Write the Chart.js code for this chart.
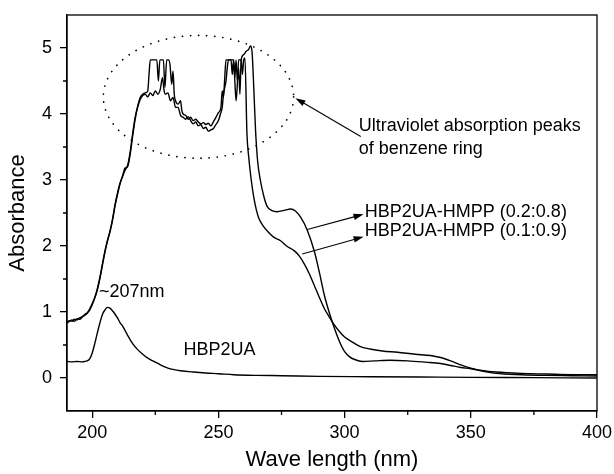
<!DOCTYPE html>
<html>
<head>
<meta charset="utf-8">
<script src="https://cdn.jsdelivr.net/npm/chart.js@4.4.1/dist/chart.umd.min.js"></script>
<style>
  body { margin: 0; background: #fff; }
  canvas { display: block; }
</style>
</head>
<body>
<canvas id="uvChart" width="614" height="474"></canvas>
<script>
// tick labels
const xTicks = [200, 250, 300, 350, 400];
const yTicks = [0, 1, 2, 3, 4, 5];
const xMinor = [225, 275, 325, 375];
const yMinor = [0.5, 1.5, 2.5, 3.5, 4.5];

// HBP2UA-HMPP (0.2:0.8)
const waveA = [190,191,192,193,194,195,196,197,198,199,200,201,202,203,204,205,206,207,208,209,210,211,212,213,214,215,216,217,218,219,
  220,221,222,222.5,223,224,225,225.6,226.2,226.8,227.5,228.2,228.8,229.5,230.2,230.8,231.5,232,232.5,233,
  234,235,235.5,236,237,238,239,240,241,242,243,244,245,246,247,248,249,250,251,
  251.5,252,252.5,253,254,255,255.5,256,256.5,257,257.5,258,258.5,259,260,261,262,262.7,263.3,
  264,264.7,265.5,266.6,268,269.3,271,273.3,276,278.6,280.5,282.5,285.2,
  288,290,292,294,296,298,300,302,304,307,
  312,318,325,332,338,342,346,350,355,360,370,380,390,400];
const absA = [0.85,0.87,0.86,0.89,0.88,0.91,0.93,0.95,0.98,1.05,1.13,1.22,1.35,1.52,1.72,1.92,2.08,2.22,2.4,2.62,2.8,2.95,3.05,3.15,3.22,3.42,3.7,3.95,4.12,4.25,
  4.3,4.32,4.35,4.6,4.82,4.82,4.82,4.82,4.5,4.82,4.82,4.82,4.4,4.82,4.82,4.75,4.45,4.65,4.3,4.2,
  4.15,4.2,4.05,4.0,3.98,3.92,3.95,3.9,3.92,3.88,3.85,3.87,3.84,3.86,3.82,3.88,3.95,4.02,4.1,
  4.35,4.25,4.55,4.82,4.82,4.82,4.6,4.82,4.55,4.82,4.5,4.7,4.3,4.82,4.9,4.95,4.98,5.03,4.95,
  4.4,3.76,3.3,3.0,2.75,2.6,2.54,2.52,2.54,2.56,2.53,2.44,2.24,
  1.92,1.6,1.25,0.98,0.75,0.55,0.4,0.32,0.28,0.25,
  0.26,0.27,0.26,0.24,0.22,0.19,0.16,0.14,0.1,0.07,0.05,0.04,0.035,0.03];

// HBP2UA-HMPP (0.1:0.9)
const waveB = [190,191,192,193,194,195,196,197,198,199,200,201,202,203,204,205,206,207,208,209,210,211,212,213,214,215,216,217,218,219,
  220,221,222,223,224,225,226,227,227.8,228.5,
  229,230,231,232,233,234,235,236,237,238,239,240,241,242,243,244,245,246,247,248,249,250,
  250.8,251.5,252,253,253.5,254,255,256,256.5,257,257.5,258,259,259.5,260,260.5,
  261.3,262,263,264,265,266,268,270,272,274.6,277,280,282,284,286,288,290,292,294,296,298,300,302.4,306,310,315,321,328,334,338,342,346,350,355,360,370,380,390,400];
const absB = [0.83,0.86,0.88,0.86,0.9,0.89,0.92,0.96,0.99,1.03,1.11,1.21,1.33,1.5,1.7,1.9,2.07,2.21,2.38,2.6,2.78,2.94,3.06,3.18,3.2,3.38,3.66,3.92,4.1,4.22,
  4.28,4.3,4.26,4.32,4.28,4.35,4.3,4.38,4.55,4.35,
  4.3,4.32,4.2,4.25,4.1,4.1,3.98,3.95,3.92,3.96,3.9,3.85,3.88,3.82,3.84,3.78,3.8,3.74,3.76,3.78,3.84,3.9,
  4.0,4.1,4.3,4.5,4.7,4.82,4.82,4.82,4.5,4.2,4.45,4.82,4.82,4.6,4.82,4.85,
  3.7,3.35,3.0,2.74,2.55,2.42,2.29,2.2,2.13,2.08,2.0,1.93,1.85,1.73,1.58,1.4,1.22,1.05,0.92,0.8,0.7,0.62,0.56,0.48,0.44,0.41,0.39,0.36,0.34,0.31,0.26,0.2,0.15,0.11,0.09,0.07,0.06,0.05,0.05];

// HBP2UA
const waveU = [190,192,194,196,197,198,199,200,201,202,203,204,205,206,207,208,209,210,211,212,213,214,215,216,
  218,220,222,224,226,228,230,232,235,240,245,250,256,265,275,290,310,330,350,375,400];
const absU = [0.25,0.245,0.25,0.245,0.25,0.26,0.29,0.38,0.52,0.68,0.83,0.96,1.03,1.07,1.06,1.02,0.97,0.91,0.84,0.79,0.72,0.65,0.58,0.52,
  0.43,0.36,0.3,0.26,0.22,0.18,0.15,0.13,0.11,0.09,0.075,0.065,0.05,0.04,0.035,0.025,0.02,0.015,0.01,0.005,0.0];

const FONT = "'Liberation Sans', Arial, sans-serif";

function toPoints(xs, ys) {
    return xs.map((x, i) => ({ x: x, y: ys[i] }));
}

function curve(label, xs, ys) {
    return {
        label: label,
        data: toPoints(xs, ys),
        borderColor: '#000',
        borderWidth: 1.4,
        pointRadius: 0,
        fill: false,
        cubicInterpolationMode: 'monotone'
    };
}

function arrow(ctx, x1, y1, x2, y2) {
    const ang = Math.atan2(y2 - y1, x2 - x1);
    const len = 10, half = 3.2;
    ctx.beginPath();
    ctx.moveTo(x1, y1);
    ctx.lineTo(x2 - Math.cos(ang) * len * 0.8, y2 - Math.sin(ang) * len * 0.8);
    ctx.stroke();
    ctx.beginPath();
    ctx.moveTo(x2, y2);
    ctx.lineTo(x2 - Math.cos(ang) * len + Math.sin(ang) * half, y2 - Math.sin(ang) * len - Math.cos(ang) * half);
    ctx.lineTo(x2 - Math.cos(ang) * len - Math.sin(ang) * half, y2 - Math.sin(ang) * len + Math.cos(ang) * half);
    ctx.closePath();
    ctx.fill();
}

// frame, minor ticks and annotations
const decorPlugin = {
    id: 'decor',
    afterDraw(chart) {
        const ctx = chart.ctx;
        const a = chart.chartArea;
        const sx = chart.scales.x, sy = chart.scales.y;
        const px = v => sx.getPixelForValue(v);
        const py = v => sy.getPixelForValue(v);

        ctx.save();
        ctx.strokeStyle = '#000';
        ctx.fillStyle = '#000';
        ctx.lineWidth = 1.3;
        ctx.strokeRect(a.left, a.top, a.right - a.left, a.bottom - a.top);

        ctx.beginPath();
        xMinor.forEach(v => { ctx.moveTo(px(v), a.bottom); ctx.lineTo(px(v), a.bottom + 4); });
        yMinor.forEach(v => { ctx.moveTo(a.left, py(v)); ctx.lineTo(a.left - 4, py(v)); });
        ctx.stroke();

        // dotted ellipse round the benzene peaks
        ctx.lineWidth = 1.7;
        ctx.lineCap = 'round';
        ctx.setLineDash([0.1, 8]);
        ctx.beginPath();
        ctx.ellipse(px(242.1), py(4.26), px(279.8) - px(242.1), py(4.26 - 0.93) - py(4.26), 0, 0, Math.PI * 2);
        ctx.stroke();
        ctx.setLineDash([]);
        ctx.lineCap = 'butt';

        ctx.lineWidth = 1.1;
        arrow(ctx, px(306.4), py(3.66), px(280.5), py(4.24));
        arrow(ctx, px(285.2), py(2.25), px(307.5), py(2.48));
        arrow(ctx, px(283.2), py(1.88), px(307.5), py(2.14));

        ctx.font = '18px ' + FONT;
        ctx.textBaseline = 'middle';
        ctx.textAlign = 'left';
        ctx.fillText('Ultraviolet absorption peaks', px(305.6), py(3.82));
        ctx.fillText('of benzene ring', px(305.6), py(3.47));
        ctx.fillText('HBP2UA-HMPP (0.2:0.8)', px(308), py(2.51));
        ctx.fillText('HBP2UA-HMPP (0.1:0.9)', px(308), py(2.22));
        ctx.fillText('~207nm', px(202.7), py(1.31));
        ctx.textAlign = 'center';
        ctx.fillText('HBP2UA', px(250.4), py(0.43));
        ctx.restore();
    }
};

const ctx = document.getElementById('uvChart').getContext('2d');
new Chart(ctx, {
    type: 'line',
    data: {
        datasets: [
            curve('HBP2UA-HMPP (0.2:0.8)', waveA, absA),
            curve('HBP2UA-HMPP (0.1:0.9)', waveB, absB),
            curve('HBP2UA', waveU, absU)
        ]
    },
    options: {
        responsive: false,
        animation: false,
        events: [],
        layout: { padding: { top: 15, right: 17, left: 0, bottom: 0 } },
        plugins: {
            legend: { display: false },
            tooltip: { enabled: false }
        },
        scales: {
            x: {
                type: 'linear',
                min: 190,
                max: 400,
                afterBuildTicks: s => { s.ticks = xTicks.map(v => ({ value: v })); },
                afterFit: s => { s.height = 63; s.paddingLeft = 0; s.paddingRight = 0; },
                ticks: { color: '#000', font: { family: FONT, size: 18 }, padding: 4, maxRotation: 0 },
                grid: { drawOnChartArea: false, color: '#000', lineWidth: 1.3, tickLength: 7 },
                border: { color: '#000', width: 1.3 },
                title: { display: true, text: 'Wave length (nm)', color: '#000', font: { family: FONT, size: 22 }, padding: { top: 0, bottom: 1 } }
            },
            y: {
                min: -0.5,
                max: 5.5,
                afterBuildTicks: s => { s.ticks = yTicks.map(v => ({ value: v })); },
                afterFit: s => { s.width = 67; s.paddingTop = 0; s.paddingBottom = 0; },
                ticks: { color: '#000', font: { family: FONT, size: 18 }, padding: 8 },
                grid: { drawOnChartArea: false, color: '#000', lineWidth: 1.3, tickLength: 7 },
                border: { color: '#000', width: 1.3 },
                title: { display: true, text: 'Absorbance', color: '#000', font: { family: FONT, size: 22 }, padding: { top: 5, bottom: 0 } }
            }
        }
    },
    plugins: [decorPlugin]
});
</script>
</body>
</html>
